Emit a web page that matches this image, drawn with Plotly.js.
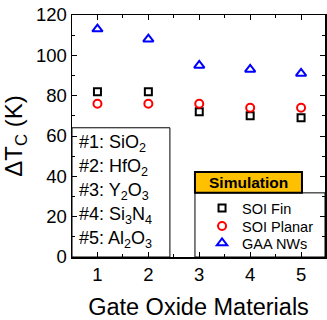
<!DOCTYPE html>
<html>
<head>
<meta charset="utf-8">
<script src="https://cdn.plot.ly/plotly-3.0.1.min.js"></script>
<style>
  html, body { margin: 0; padding: 0; background: #fff; }
  #chart { width: 327px; height: 320px; }
</style>
</head>
<body>
<div id="chart"></div>
<script>
// Gate oxide index (1..5) and the cooling temperature rise per device type
const oxideIndex = [1, 2, 3, 4, 5];
const soiFin = [82, 82, 72, 70, 69];
const soiPlanar = [76, 76, 76, 74, 74];
const gaaNWs = [113, 108, 95, 93, 91];

const seriesNames = ['SOI Fin', 'SOI Planar', 'GAA NWs'];
const oxideLabels = [
  '#1: SiO<sub>2</sub>',
  '#2: HfO<sub>2</sub>',
  '#3: Y<sub>2</sub>O<sub>3</sub>',
  '#4: Si<sub>3</sub>N<sub>4</sub>',
  '#5: Al<sub>2</sub>O<sub>3</sub>'
];

const font = 'Arial, "Liberation Sans", sans-serif';

const traces = [
  { x: oxideIndex, y: soiFin, name: seriesNames[0], mode: 'markers', type: 'scatter', legend: 'legend',
    marker: { symbol: 'square-open', size: 7, color: '#000', line: { width: 2 } } },
  { x: oxideIndex, y: soiPlanar, name: seriesNames[1], mode: 'markers', type: 'scatter', legend: 'legend2',
    marker: { symbol: 'circle-open', size: 8, color: '#f00', line: { width: 2 } } },
  { x: oxideIndex, y: gaaNWs, name: seriesNames[2], mode: 'markers', type: 'scatter', legend: 'legend3',
    marker: { symbol: 'triangle-up-open', size: 9, color: '#00f', line: { width: 2 } } }
];

// One single-entry legend per series so the rows can sit tightly together
const legendRow = (yc) => ({
  x: 0.514, xanchor: 'left', y: yc, yanchor: 'middle',
  bgcolor: 'rgba(0,0,0,0)', borderwidth: 0,
  font: { family: font, size: 14.5, color: '#000' }
});

// Material key in the lower-left corner
const keyAnnotations = oxideLabels.map((t, i) => ({
  xref: 'paper', yref: 'paper', x: 0.02, y: 0.467 - i * 0.099,
  xanchor: 'left', yanchor: 'middle', showarrow: false,
  text: t, font: { family: font, size: 18, color: '#000' }
}));

const layout = {
  width: 327, height: 320,
  margin: { l: 72, r: 2, t: 15, b: 63, autoexpand: false },
  paper_bgcolor: '#fff', plot_bgcolor: '#fff',
  showlegend: true,
  legend: legendRow(0.202),
  legend2: legendRow(0.128),
  legend3: legendRow(0.058),
  xaxis: {
    range: [0.5, 5.47], tickvals: oxideIndex, ticks: 'inside', ticklen: 5,
    showgrid: false, zeroline: false, showline: true, linecolor: '#000', linewidth: 1.5,
    mirror: 'allticks', tickcolor: '#000',
    minor: { dtick: 0.5, ticks: 'inside', ticklen: 3, tickcolor: '#000', showgrid: false },
    tickfont: { family: font, size: 18.5, color: '#000' },
    title: { text: 'Gate Oxide Materials', font: { family: font, size: 23.5, color: '#000' }, standoff: 16 }
  },
  yaxis: {
    range: [0, 120], dtick: 20, ticks: 'inside', ticklen: 5,
    showgrid: false, zeroline: false, showline: true, linecolor: '#000', linewidth: 1.5,
    mirror: 'allticks', tickcolor: '#000',
    minor: { dtick: 10, ticks: 'inside', ticklen: 3, tickcolor: '#000', showgrid: false },
    tickfont: { family: font, size: 18.5, color: '#000' },
    title: { text: 'ΔT<sub>C</sub> (K)', font: { family: font, size: 24, color: '#000' }, standoff: 6 }
  },
  shapes: [
    // material key box
    { type: 'rect', xref: 'paper', yref: 'paper', x0: 0, x1: 0.387, y0: 0, y1: 0.534,
      line: { color: '#000', width: 1 }, fillcolor: '#fff', layer: 'below' },
    // legend box
    { type: 'rect', xref: 'paper', yref: 'paper', x0: 0.486, x1: 1, y0: 0, y1: 0.265,
      line: { color: '#000', width: 1 }, fillcolor: '#fff', layer: 'below' },
    // "Simulation" tag
    { type: 'rect', xref: 'paper', yref: 'paper', x0: 0.486, x1: 0.909, y0: 0.265, y1: 0.351,
      line: { color: '#000', width: 2 }, fillcolor: '#FFC000', layer: 'below' }
  ],
  annotations: keyAnnotations.concat([
    { xref: 'paper', yref: 'paper', x: 0.6975, y: 0.308, xanchor: 'center', yanchor: 'middle',
      showarrow: false, text: '<b>Simulation</b>', font: { family: font, size: 15.5, color: '#000' } }
  ])
};

Plotly.newPlot('chart', traces, layout, { displayModeBar: false, staticPlot: true });
</script>
</body>
</html>
